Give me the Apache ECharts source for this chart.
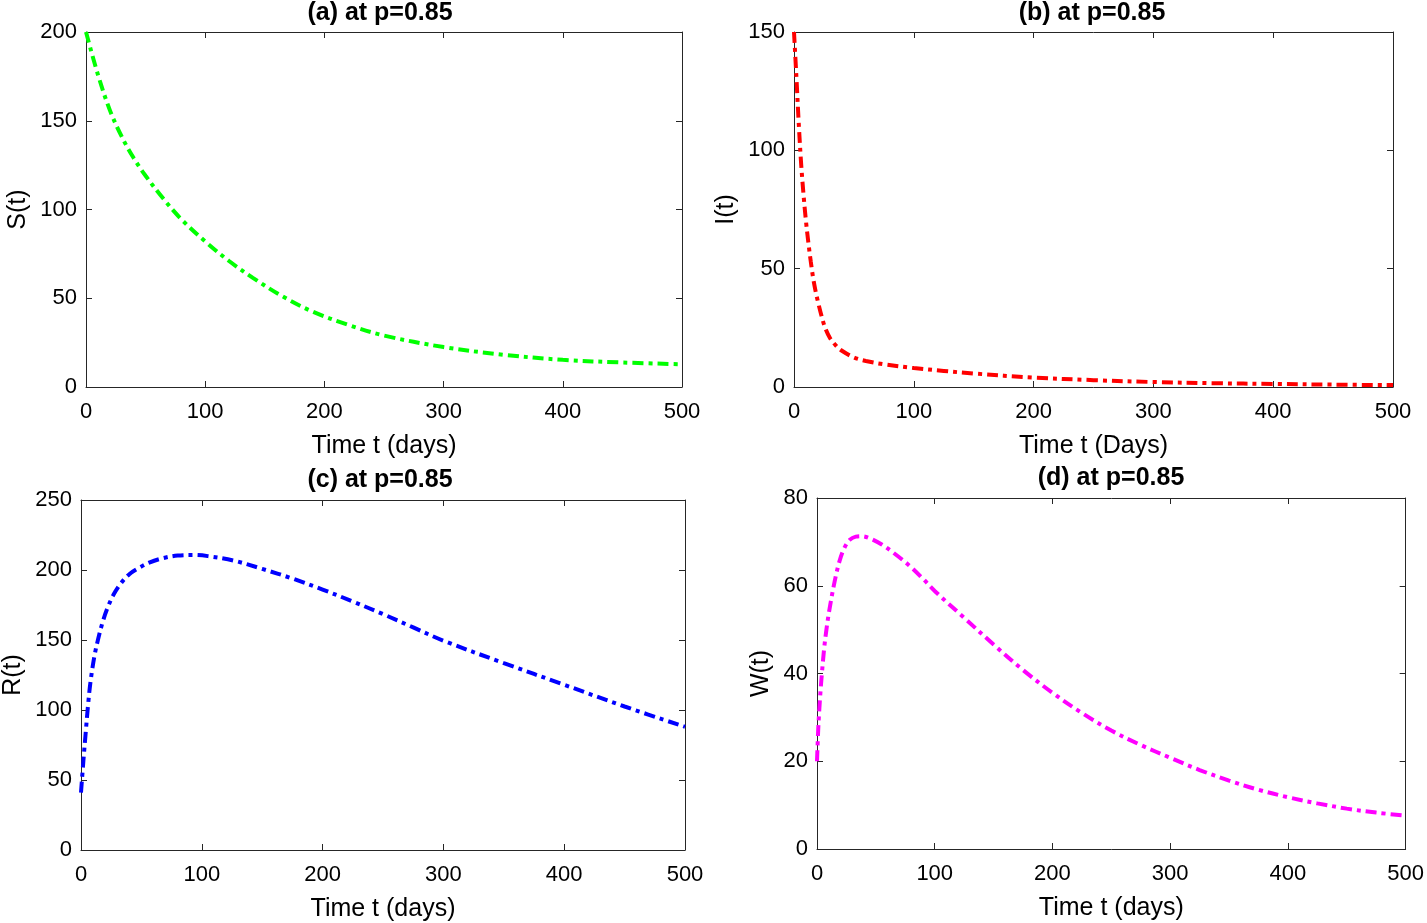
<!DOCTYPE html>
<html>
<head>
<meta charset="utf-8">
<script src="https://cdn.jsdelivr.net/npm/echarts@6/dist/echarts.min.js"></script>
<style>
html,body{margin:0;padding:0;background:#fff;}
#chart{width:1427px;height:923px;}
</style>
</head>
<body>
<div id="chart"></div>
<script>
// ---- data ----
const titles = ['(a) at p=0.85', '(b) at p=0.85', '(c) at p=0.85', '(d) at p=0.85'];
const yNames = ['S(t)', 'I(t)', 'R(t)', 'W(t)'];
const xNames = ['Time t (days)', 'Time t (Days)', 'Time t (days)', 'Time t (days)'];

const tS = [0, 10, 20, 30, 40, 50, 65, 80, 100, 120, 140, 165, 190, 220, 250, 300, 350, 400, 450, 500];
const S  = [200, 176, 156, 141, 129, 119, 106, 94.5, 82, 71, 61.5, 51, 42.5, 35, 29, 22.5, 18.2, 15.3, 13.8, 12.8];

const tI = [0, 2, 4, 6, 8, 10, 12, 14, 16, 18, 20, 23, 26, 30, 35, 40, 50, 60, 75, 100, 125, 150, 200, 250, 300, 350, 400, 450, 500];
const I  = [150, 131, 111, 94, 81, 70, 61, 53, 46, 40.5, 36, 30, 25, 20.7, 17.5, 15.3, 12.5, 11, 9.6, 8, 6.8, 5.7, 4.0, 2.9, 2.1, 1.6, 1.3, 1.0, 0.8];

const tR = [0, 2, 4, 6, 8, 11, 14, 18, 22, 27, 33, 40, 47, 57, 68, 80, 93, 105, 126, 150, 175, 200, 225, 250, 275, 300, 350, 400, 450, 500];
const R  = [41, 64, 85, 105, 121, 138, 150, 163, 173, 182.5, 190.5, 197, 201, 205.5, 208.5, 210.3, 210.7, 209.9, 206.8, 200.8, 193.9, 186, 177.5, 168.5, 159, 149.5, 133.5, 118, 102.5, 88];

const tW = [0, 1, 2, 3, 4, 6, 8, 10.7, 15, 19, 23, 28, 33, 38, 45, 55, 65, 78, 90, 100, 125, 150, 175, 200, 225, 250, 275, 300, 325, 350, 375, 400, 425, 450, 475, 500];
const W  = [20, 27, 32, 36, 39.5, 45.5, 50, 54.8, 61, 65.5, 68.5, 70.5, 71.2, 71.3, 70.8, 69.4, 67.5, 64.7, 61.6, 58.8, 52.7, 46.6, 40.8, 35.6, 31.0, 27.0, 23.7, 20.8, 18.0, 15.6, 13.5, 11.8, 10.4, 9.2, 8.3, 7.6];

const xTicks = {min: 0, max: 500, interval: 100};
const yRanges = [
  {min: 0, max: 200, interval: 50},
  {min: 0, max: 150, interval: 50},
  {min: 0, max: 250, interval: 50},
  {min: 0, max: 80, interval: 20}
];
const colors = ['#00ff00', '#ff0000', '#0000ff', '#ff00ff'];
const times = [tS, tI, tR, tW];
const values = [S, I, R, W];

// ---- layout ----
const grids = [
  {left: 86, top: 32, width: 596, height: 355},
  {left: 794, top: 32, width: 599, height: 355},
  {left: 79, top: 500, width: 606, height: 351},
  {left: 817, top: 498, width: 593, height: 351}
];
const titleX = [375, 1087, 375, 1106];
const titleTops = [-4, -4, 463, 461];
const yNameGaps = [55, 55, 55, 43];

const FONT = '"Liberation Sans", Arial, sans-serif';
const axisColor = '#262626';

const option = {
  backgroundColor: '#fff',
  animation: false,
  title: [],
  grid: [],
  xAxis: [],
  yAxis: [],
  series: []
};

for (let k = 0; k < 4; k++) {
  const g = grids[k];
  option.grid.push({left: g.left, top: g.top, width: g.width, height: g.height, containLabel: false});
  option.title.push({
    text: titles[k],
    left: titleX[k],
    top: titleTops[k],
    textAlign: 'center',
    textStyle: {fontFamily: FONT, fontSize: 25, fontWeight: 'bold', color: '#000'}
  });
  option.xAxis.push({
    type: 'value', gridIndex: k, position: 'bottom',
    min: xTicks.min, max: xTicks.max, interval: xTicks.interval,
    name: xNames[k], nameLocation: 'middle', nameGap: 47,
    nameTextStyle: {fontFamily: FONT, fontSize: 25, color: '#000'},
    axisLine: {show: true, onZero: false, lineStyle: {color: axisColor, width: 1}},
    axisTick: {show: true, inside: true, length: 6, lineStyle: {color: axisColor}},
    axisLabel: {fontFamily: FONT, fontSize: 22, color: '#000', margin: 14},
    splitLine: {show: false}
  });
  option.xAxis.push({
    type: 'value', gridIndex: k, position: 'top',
    min: xTicks.min, max: xTicks.max, interval: xTicks.interval,
    axisLine: {show: true, onZero: false, lineStyle: {color: axisColor, width: 1}},
    axisTick: {show: true, inside: true, length: 6, lineStyle: {color: axisColor}},
    axisLabel: {show: false},
    splitLine: {show: false}
  });
  const yr = yRanges[k];
  option.yAxis.push({
    type: 'value', gridIndex: k, position: 'left',
    min: yr.min, max: yr.max, interval: yr.interval,
    name: yNames[k], nameLocation: 'middle', nameGap: yNameGaps[k], nameRotate: 90,
    nameTextStyle: {fontFamily: FONT, fontSize: 25, color: '#000'},
    axisLine: {show: true, onZero: false, lineStyle: {color: axisColor, width: 1}},
    axisTick: {show: true, inside: true, length: 6, lineStyle: {color: axisColor}},
    axisLabel: {fontFamily: FONT, fontSize: 22, color: '#000', margin: 9},
    splitLine: {show: false}
  });
  option.yAxis.push({
    type: 'value', gridIndex: k, position: 'right',
    min: yr.min, max: yr.max, interval: yr.interval,
    axisLine: {show: true, onZero: false, lineStyle: {color: axisColor, width: 1}},
    axisTick: {show: true, inside: true, length: 6, lineStyle: {color: axisColor}},
    axisLabel: {show: false},
    splitLine: {show: false}
  });
  option.series.push({
    type: 'line',
    xAxisIndex: 2 * k,
    yAxisIndex: 2 * k,
    data: times[k].map((t, i) => [t, values[k][i]]),
    showSymbol: false,
    smooth: 0.35,
    clip: false,
    lineStyle: {color: colors[k], width: 4, type: [11, 5, 4, 5]}
  });
}

const chart = echarts.init(document.getElementById('chart'), null, {renderer: 'canvas'});
chart.setOption(option);
</script>
</body>
</html>
